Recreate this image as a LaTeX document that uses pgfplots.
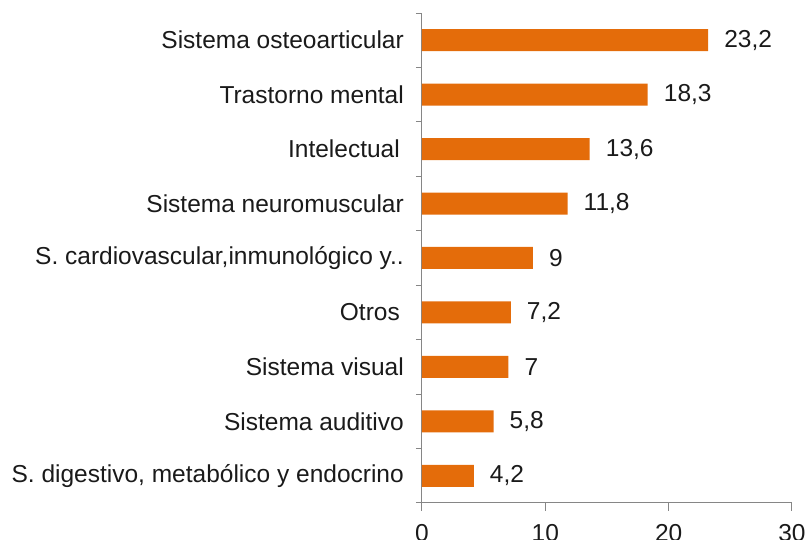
\documentclass[border=0pt]{standalone}
\usepackage{pgfplots}
\pgfplotsset{compat=1.18}
\usepackage{fontspec}
\setmainfont{Liberation Sans}
\definecolor{barorange}{HTML}{E46C0A}
\definecolor{axisgray}{HTML}{868686}
\definecolor{txt}{HTML}{1A1A1A}
\begin{document}
\begin{tikzpicture}
\begin{axis}[
  at={(422pt,37pt)}, anchor=south west,
  scale only axis, width=370pt, height=490pt,
  xbar, bar width=22pt,
  xmin=0, xmax=30, ymin=-0.5, ymax=8.5,
  xtick={0,10,20,30},
  ytick={0,...,8},
  minor ytick={-0.5,0.5,...,8.5},
  yticklabels={{S. digestivo, metabólico y endocrino}, Sistema auditivo, Sistema visual, Otros\kern4pt\null, {S. cardiovascular,inmunológico y..}, Sistema neuromuscular, Intelectual\kern4pt\null, Trastorno mental, Sistema osteoarticular},
  axis x line*=bottom, axis y line*=left,
  axis line style={axisgray, line width=1pt, -},
  tick align=outside,
  major tick length=8pt, minor tick length=6pt,
  tick style={axisgray, line width=1pt},
  major y tick style={draw=none},
  font=\fontsize{24.5}{28}\selectfont,
  /pgf/number format/assume math mode=true,
  /pgf/number format/use comma,
  xticklabel style={anchor=north, inner sep=0pt, yshift=-13pt, text=txt},
  yticklabel style={anchor=east, inner sep=0pt, xshift=-10pt, text=txt},
  nodes near coords,
  every node near coord/.append style={anchor=west, inner sep=0pt, xshift=16pt, text=txt, font=\fontsize{24.5}{28}\selectfont},
]
\addplot[fill=barorange, draw=none] coordinates {
  (4.2,0) (5.8,1) (7,2) (7.2,3) (9,4) (11.8,5) (13.6,6) (18.3,7) (23.2,8)
};
\end{axis}
\pgfresetboundingbox
\path[use as bounding box] (0,0) rectangle (807pt,540pt);
\end{tikzpicture}
\end{document}
